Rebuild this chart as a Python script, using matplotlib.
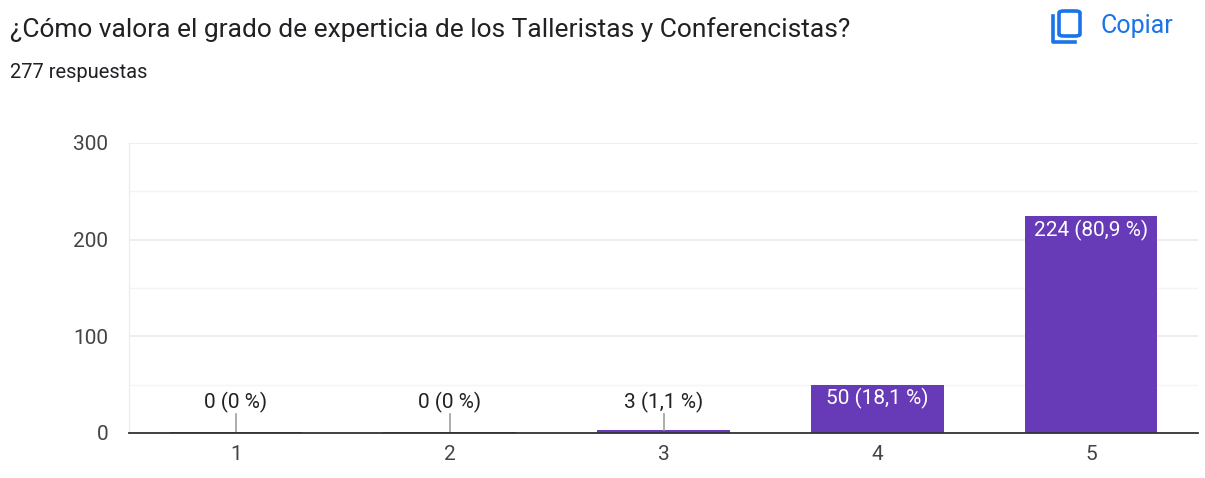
import matplotlib.pyplot as plt
import matplotlib.ticker as mticker
from matplotlib.patches import FancyBboxPatch
from matplotlib.lines import Line2D

plt.rcParams['font.family'] = ['Roboto', 'DejaVu Sans']

title = '¿Cómo valora el grado de experticia de los Talleristas y Conferencistas?'
subtitle = '277 respuestas'
categories = ['1', '2', '3', '4', '5']
counts = [0, 0, 3, 50, 224]
labels = ['0 (0 %)', '0 (0 %)', '3 (1,1 %)', '50 (18,1 %)', '224 (80,9 %)']

purple = '#673ab7'
W, H = 1205, 478
fig = plt.figure(figsize=(W / 100, H / 100), dpi=100)
ax = fig.add_axes([129 / W, 1 - 433 / H, (1198 - 129) / W, (433 - 143) / H])

x = list(range(1, len(categories) + 1))
ax.bar(x, counts, width=0.62, color=purple, zorder=3)
# tiny baseline stub for zero bars
ax.bar(x, [1.2 if c == 0 else 0 for c in counts], width=0.62, color='#4a3a70', zorder=3)

for xi, c, lab in zip(x, counts, labels):
    if c < 30:
        ax.plot([xi, xi], [max(c, 0), 20], color='#9e9e9e', lw=1.2, zorder=4)
        ax.text(xi, 21, lab, ha='center', va='bottom', fontsize=15, color='#212121')
    else:
        ax.text(xi, c - 3.5, lab, ha='center', va='top', fontsize=15, color='white', zorder=5)

ax.set_xlim(0.5, 5.5)
ax.set_ylim(0, 300)
ax.set_xticks(x)
ax.set_xticklabels(categories)
ax.yaxis.set_major_locator(mticker.MultipleLocator(100))
ax.yaxis.set_minor_locator(mticker.MultipleLocator(50))
ax.grid(axis='y', which='major', color='#ebebeb', lw=1.2, zorder=0)
ax.grid(axis='y', which='minor', color='#f4f4f4', lw=1.0, zorder=0)
ax.tick_params(axis='both', which='both', length=0, labelsize=15, labelcolor='#444444')
ax.tick_params(axis='y', pad=15)
ax.tick_params(axis='x', pad=9)
for s in ['top', 'right']:
    ax.spines[s].set_visible(False)
ax.spines['left'].set_color('#ebebeb')
ax.spines['bottom'].set_color('#333333')
ax.spines['bottom'].set_linewidth(1.3)
ax.spines['bottom'].set_zorder(6)

fig.text(10 / W, 1 - 30 / H, title, fontsize=19, color='#202124', va='center', ha='left')
fig.text(10 / W, 1 - 73 / H, subtitle, fontsize=14.5, color='#202124', va='center', ha='left')

# copy icon
blue = '#1a73e8'
fig.patches.append(FancyBboxPatch((1059 / W, 1 - 36 / H), 21 / W, 25 / H,
                                  boxstyle='round,pad=0,rounding_size=0.004',
                                  transform=fig.transFigure, fill=False,
                                  edgecolor=blue, lw=2.6))
fig.add_artist(Line2D([1053 / W, 1053 / W, 1075 / W], [1 - 16 / H, 1 - 42 / H, 1 - 42 / H],
                      transform=fig.transFigure, color=blue, lw=2.6))
fig.text(1100 / W, 1 - 26 / H, 'Copiar', fontsize=18, color=blue, va='center', ha='left')

fig.savefig('out.png', dpi=100)
